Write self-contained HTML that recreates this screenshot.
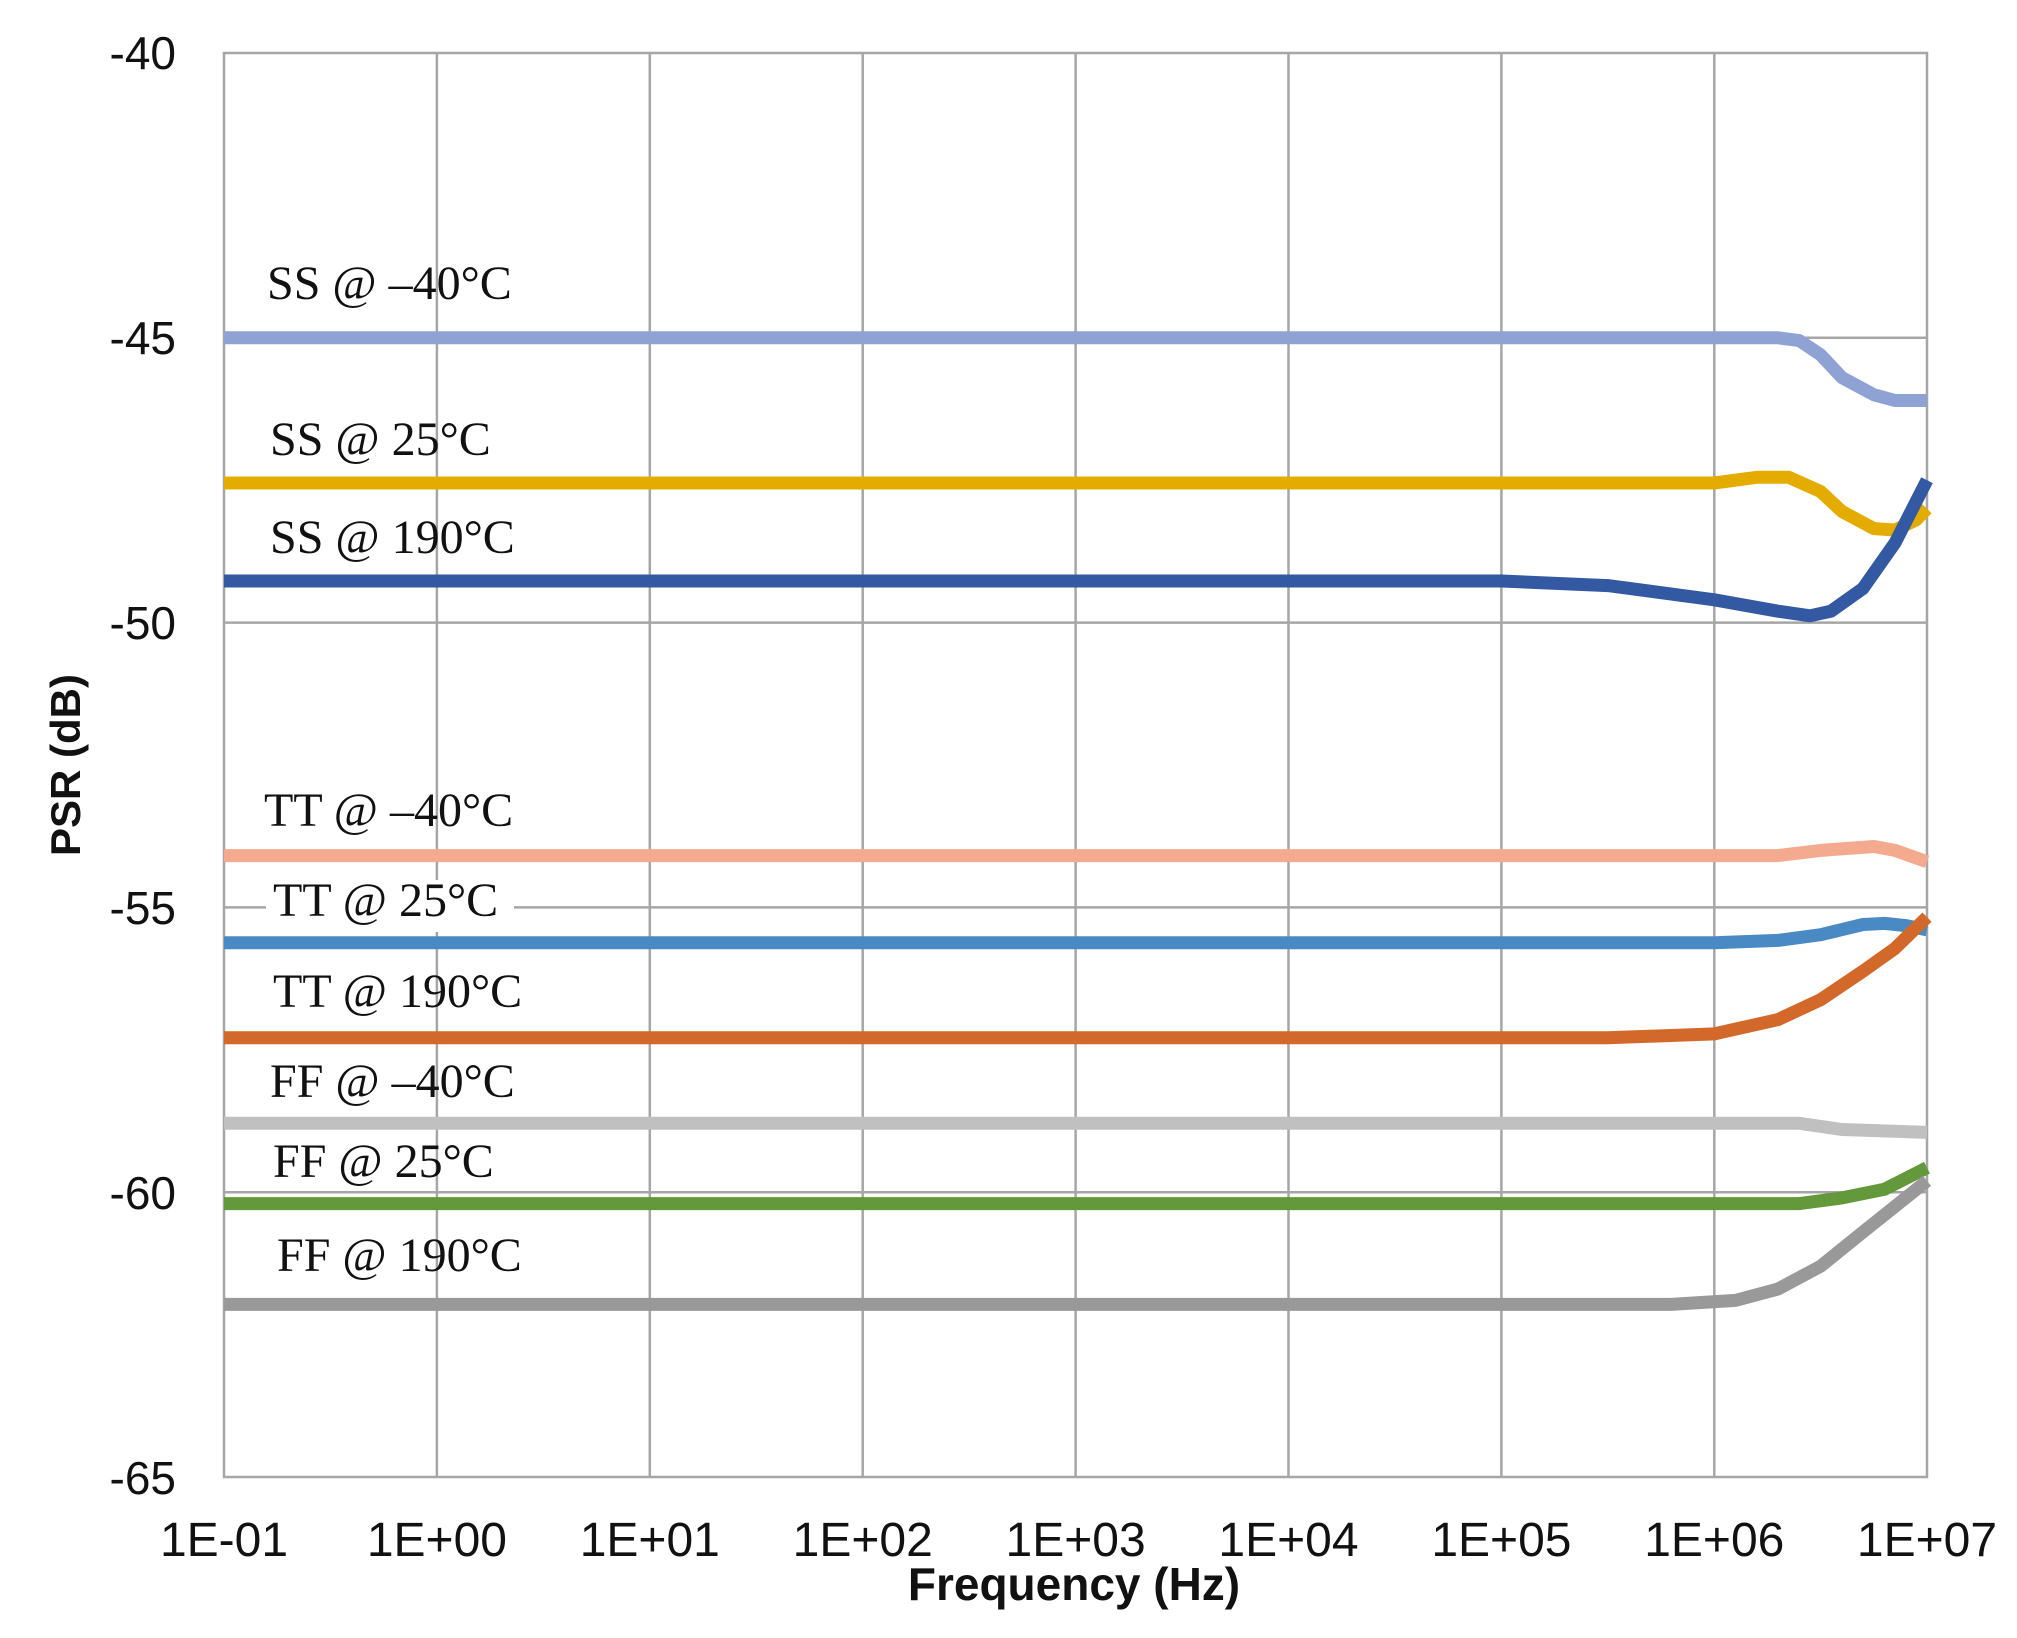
<!DOCTYPE html>
<html><head><meta charset="utf-8"><style>
html,body{margin:0;padding:0;background:#fff;}
svg{display:block;}
</style></head><body>
<svg width="2017" height="1638" viewBox="0 0 2017 1638" xmlns="http://www.w3.org/2000/svg">
<rect width="2017" height="1638" fill="#fff"/>
<g stroke="#a6a6a6" stroke-width="2.5" fill="none">
<line x1="436.9" y1="53" x2="436.9" y2="1477"/>
<line x1="649.8" y1="53" x2="649.8" y2="1477"/>
<line x1="862.7" y1="53" x2="862.7" y2="1477"/>
<line x1="1075.6" y1="53" x2="1075.6" y2="1477"/>
<line x1="1288.5" y1="53" x2="1288.5" y2="1477"/>
<line x1="1501.4" y1="53" x2="1501.4" y2="1477"/>
<line x1="1714.3" y1="53" x2="1714.3" y2="1477"/>
<line x1="224" y1="337.8" x2="1927" y2="337.8"/>
<line x1="224" y1="622.6" x2="1927" y2="622.6"/>
<line x1="224" y1="907.4" x2="1927" y2="907.4"/>
<line x1="224" y1="1192.2" x2="1927" y2="1192.2"/>
<rect x="224" y="53" width="1703" height="1424"/>
</g>
<g font-family="'Liberation Sans',sans-serif" font-size="46" fill="#111" text-anchor="end">
<text x="176" y="69">-40</text>
<text x="176" y="354">-45</text>
<text x="176" y="639">-50</text>
<text x="176" y="924">-55</text>
<text x="176" y="1209">-60</text>
<text x="176" y="1494">-65</text>
</g>
<g font-family="'Liberation Sans',sans-serif" font-size="48" fill="#111" text-anchor="middle">
<text x="224" y="1556">1E-01</text>
<text x="436.9" y="1556">1E+00</text>
<text x="649.8" y="1556">1E+01</text>
<text x="862.7" y="1556">1E+02</text>
<text x="1075.6" y="1556">1E+03</text>
<text x="1288.5" y="1556">1E+04</text>
<text x="1501.4" y="1556">1E+05</text>
<text x="1714.3" y="1556">1E+06</text>
<text x="1927" y="1556">1E+07</text>
</g>
<text x="1074" y="1600" font-family="'Liberation Sans',sans-serif" font-weight="bold" font-size="46" text-anchor="middle" fill="#111">Frequency (Hz)</text>
<text transform="translate(80,765) rotate(-90)" font-family="'Liberation Sans',sans-serif" font-weight="bold" font-size="42" text-anchor="middle" fill="#111">PSR (dB)</text>
<rect x="266" y="880" width="248" height="52" fill="#fff"/>
<g fill="none" stroke-width="13" stroke-linejoin="round" stroke-linecap="butt">
<polyline stroke="#8fa2d4" points="224,337.8 1778,337.8 1799.4,340.6 1820.7,354.9 1842,377.6 1874,394.8 1895,400.5 1927,400.5"/>
<polyline stroke="#e5ac00" points="224,483 1714.3,483 1756.9,477.3 1788.8,477.3 1820.7,491.6 1842,511.5 1874,528.6 1895,530 1916,520 1927,508.7"/>
<polyline stroke="#3459a3" points="224,581 1501.4,581 1607.8,585.6 1714.3,599.8 1778,611.2 1810,615.8 1831,611.2 1863,588.4 1895,542.9 1927,480.2"/>
<polyline stroke="#f4aa8e" points="224,855.6 1778,855.6 1820.7,850.4 1874,846.5 1895,850.4 1927,861.8"/>
<polyline stroke="#4a8ac4" points="224,942.7 1714.3,942.7 1778,940.4 1820.7,934.7 1863,924.5 1884.5,923.4 1906,925.6 1927,929.9"/>
<polyline stroke="#d2692a" points="224,1037.8 1607.8,1037.8 1714.3,1033.9 1778,1019.6 1820.7,999.7 1863,971.2 1895,948.4 1927,917.1"/>
<polyline stroke="#c0c0c0" points="224,1123.3 1799.4,1123.3 1842,1129.5 1927,1132.4"/>
<polyline stroke="#63983b" points="224,1203.6 1799.4,1203.6 1842,1197.9 1884.5,1189.3 1927,1167.7"/>
<polyline stroke="#999999" points="224,1304.4 1671,1304.4 1735.6,1300.4 1778,1289 1820.7,1266.2 1863,1232 1895,1206.4 1927,1180.8"/>
</g>
<g font-family="'Liberation Serif',serif" font-size="48" fill="#111">
<text x="267" y="299">SS @ –40°C</text>
<text x="270" y="455">SS @ 25°C</text>
<text x="270" y="553">SS @ 190°C</text>
<text x="264" y="826">TT @ –40°C</text>
<text x="273" y="916">TT @ 25°C</text>
<text x="273" y="1007">TT @ 190°C</text>
<text x="270" y="1097">FF @ –40°C</text>
<text x="273" y="1177">FF @ 25°C</text>
<text x="277" y="1271">FF @ 190°C</text>
</g>
</svg>
</body></html>
